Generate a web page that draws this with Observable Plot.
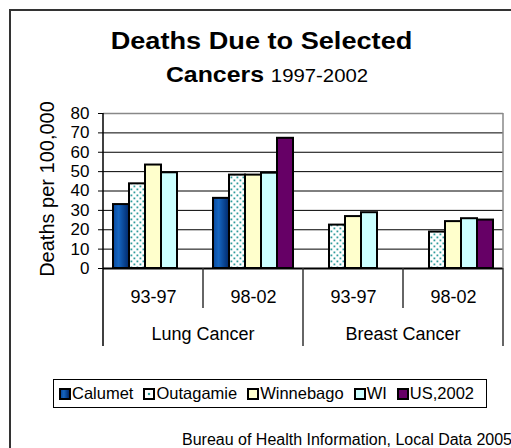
<!DOCTYPE html>
<html><head><meta charset="utf-8">
<script src="https://cdn.jsdelivr.net/npm/d3@7"></script>
<script src="https://cdn.jsdelivr.net/npm/@observablehq/plot@0.6"></script>
<style>
html,body{margin:0;padding:0;background:#fff;overflow:hidden;}
#wrap{position:relative;width:511px;height:448px;overflow:hidden;font-family:'Liberation Sans',Arial,sans-serif;color:#000;background:#fff;}
#frame{position:absolute;left:9px;top:9px;width:700px;height:700px;border:2px solid #333;box-sizing:border-box;}
.t{position:absolute;white-space:nowrap;line-height:1;text-align:center;}
#t1{left:0;width:523px;top:29.5px;font-size:23px;font-weight:bold;transform:scaleX(1.18);}
#t2{left:0;width:534px;top:64.4px;font-size:22px;line-height:22px;font-weight:bold;transform:scaleX(1.13);}
#t2 span{font-size:18px;font-weight:normal;margin-left:6px;line-height:1;}
#chart{position:absolute;left:0;top:95px;}
#legend{position:absolute;left:53px;top:379px;width:434px;height:29px;box-sizing:border-box;border:1px solid #000;display:flex;align-items:center;padding-left:5px;font-size:16.5px;background:#fff;}
.item{display:flex;align-items:center;margin-right:10px;}
.sw{width:8px;height:8px;border:2px solid #000;margin-right:1px;}
#cap{position:absolute;left:182px;top:431.5px;font-size:16px;line-height:16px;white-space:nowrap;}
</style></head>
<body>
<div id="wrap">
  <div id="frame"></div>
  <div class="t" id="t1">Deaths Due to Selected</div>
  <div class="t" id="t2">Cancers<span>1997-2002</span></div>
  <div id="chart"></div>
  <div id="legend"></div>
  <div id="cap">Bureau of Health Information, Local Data 2005</div>
</div>
<script>
// ---- data ----
const cancers = ["Lung Cancer", "Breast Cancer"];
const periods = ["93-97", "98-02"];
const series = ["Calumet", "Outagamie", "Winnebago", "WI", "US,2002"];
const calumet   = [33.0, 36.2, null, null];
const outagamie = [43.7, 48.2, 22.4, 18.8];
const winnebago = [53.4, 48.2, 26.8, 24.2];
const wi        = [49.4, 49.2, 28.8, 25.7];
const us2002    = [null, 67.2, null, 25.0];
const yTicks = [0, 10, 20, 30, 40, 50, 60, 70, 80];
const yLabel = "Deaths per 100,000";

// ---- styles ----
const fills = ["url(#calumetGrad)", "url(#outagamieDots)", "#ffffcc", "#ccffff", "#660066"];
const swatchCss = [
  "linear-gradient(90deg,#0a4a9e,#1565c0 35%,#00286a)",
  "radial-gradient(circle,#2e9c9c 1.4px,#ffffff 1.6px)",
  "#ffffcc", "#ccffff", "#660066"
];

// ---- build table ----
const groups = cancers.flatMap(c => periods.map(p => c + "|" + p));
const valuesBySeries = [calumet, outagamie, winnebago, wi, us2002];
const rows = [];
series.forEach((s, si) => groups.forEach((g, gi) => {
  const v = valuesBySeries[si][gi];
  if (v != null) rows.push({group: g, series: s, value: v});
}));

const plot = Plot.plot({
  width: 511, height: 260,
  marginLeft: 102, marginRight: 8, marginTop: 18, marginBottom: 87,
  style: {fontFamily: "'Liberation Sans', Arial, sans-serif", fontSize: "17px", color: "#000", background: "transparent", overflow: "visible"},
  fx: {domain: groups, padding: 0, label: null},
  x: {domain: series, paddingInner: 0, paddingOuter: 0.625, axis: null},
  y: {domain: [0, 80], label: null},
  color: {domain: series, range: fills},
  marks: [
    Plot.ruleY(yTicks.filter(d => d > 0 && d < 80), {stroke: "#000", strokeWidth: 1}),
    Plot.ruleY([80], {stroke: "#888", strokeWidth: 1.5}),
    Plot.barY(rows, {fx: "group", x: "series", y: "value", fill: "series", stroke: "#000", strokeWidth: 2}),
    Plot.ruleY([0], {stroke: "#000", strokeWidth: 2}),
    Plot.axisY({ticks: yTicks, tickSize: 5, tickPadding: 9, fontSize: 17, label: null}),
    Plot.axisFx({anchor: "bottom", ticks: groups, tickFormat: d => d.split("|")[1], tickSize: 0, tickPadding: 22, fontSize: 18, label: null})
  ]
});
document.getElementById("chart").appendChild(plot);

// ---- defs: gradient & dot pattern ----
const svg = d3.select(plot);
const defs = svg.insert("defs", ":first-child");
const grad = defs.append("linearGradient").attr("id", "calumetGrad").attr("x1", 0).attr("x2", 1).attr("y1", 0).attr("y2", 0);
grad.append("stop").attr("offset", "0%").attr("stop-color", "#0a4a9e");
grad.append("stop").attr("offset", "35%").attr("stop-color", "#1565c0");
grad.append("stop").attr("offset", "100%").attr("stop-color", "#00286a");
const pat = defs.append("pattern").attr("id", "outagamieDots").attr("patternUnits", "userSpaceOnUse").attr("width", 6).attr("height", 6);
pat.append("rect").attr("width", 6).attr("height", 6).attr("fill", "#fff");
pat.append("rect").attr("x", 0.5).attr("y", 0.5).attr("width", 1.8).attr("height", 1.8).attr("fill", "#2e9c9c");
pat.append("rect").attr("x", 3.5).attr("y", 3.5).attr("width", 1.8).attr("height", 1.8).attr("fill", "#2e9c9c");

// ---- hierarchical category axis, frame lines, y label ----
const fx = plot.scale("fx"), y = plot.scale("y");
const bw = fx.bandwidth;
const y0 = y.apply(0), yTop = y.apply(80);
const g = svg.append("g").attr("stroke-width", 1.5).attr("fill", "none");
const xL = fx.apply(groups[0]), xR = fx.apply(groups[groups.length - 1]) + bw;
g.append("line").attr("x1", xL).attr("x2", xL).attr("y1", yTop).attr("y2", y0 + 78).attr("stroke", "#000");
g.append("line").attr("x1", xR).attr("x2", xR).attr("y1", yTop).attr("y2", y0).attr("stroke", "#888");
g.append("line").attr("x1", xR).attr("x2", xR).attr("y1", y0).attr("y2", y0 + 78).attr("stroke", "#333");
groups.forEach((grp, i) => {
  if (i === 0) return;
  const x = fx.apply(grp);
  g.append("line").attr("x1", x).attr("x2", x).attr("y1", y0).attr("y2", i % 2 === 0 ? y0 + 78 : y0 + 40).attr("stroke", "#333");
});
cancers.forEach((c, ci) => {
  const cx = (fx.apply(groups[2 * ci]) + fx.apply(groups[2 * ci + 1]) + bw) / 2;
  svg.append("text").attr("x", cx).attr("y", y0 + 72).attr("text-anchor", "middle")
    .attr("font-size", 18).attr("fill", "#000").text(c);
});
svg.append("text").attr("transform", `translate(54,${(yTop + y0) / 2 - 1.5}) rotate(-90)`)
  .attr("text-anchor", "middle").attr("font-size", 20).attr("fill", "#000").text(yLabel);

// ---- legend ----
const legend = d3.select("#legend");
series.forEach((s, i) => {
  const it = legend.append("div").attr("class", "item");
  it.append("div").attr("class", "sw").style("background", swatchCss[i]);
  it.append("span").text(s);
});
</script>
</body></html>
